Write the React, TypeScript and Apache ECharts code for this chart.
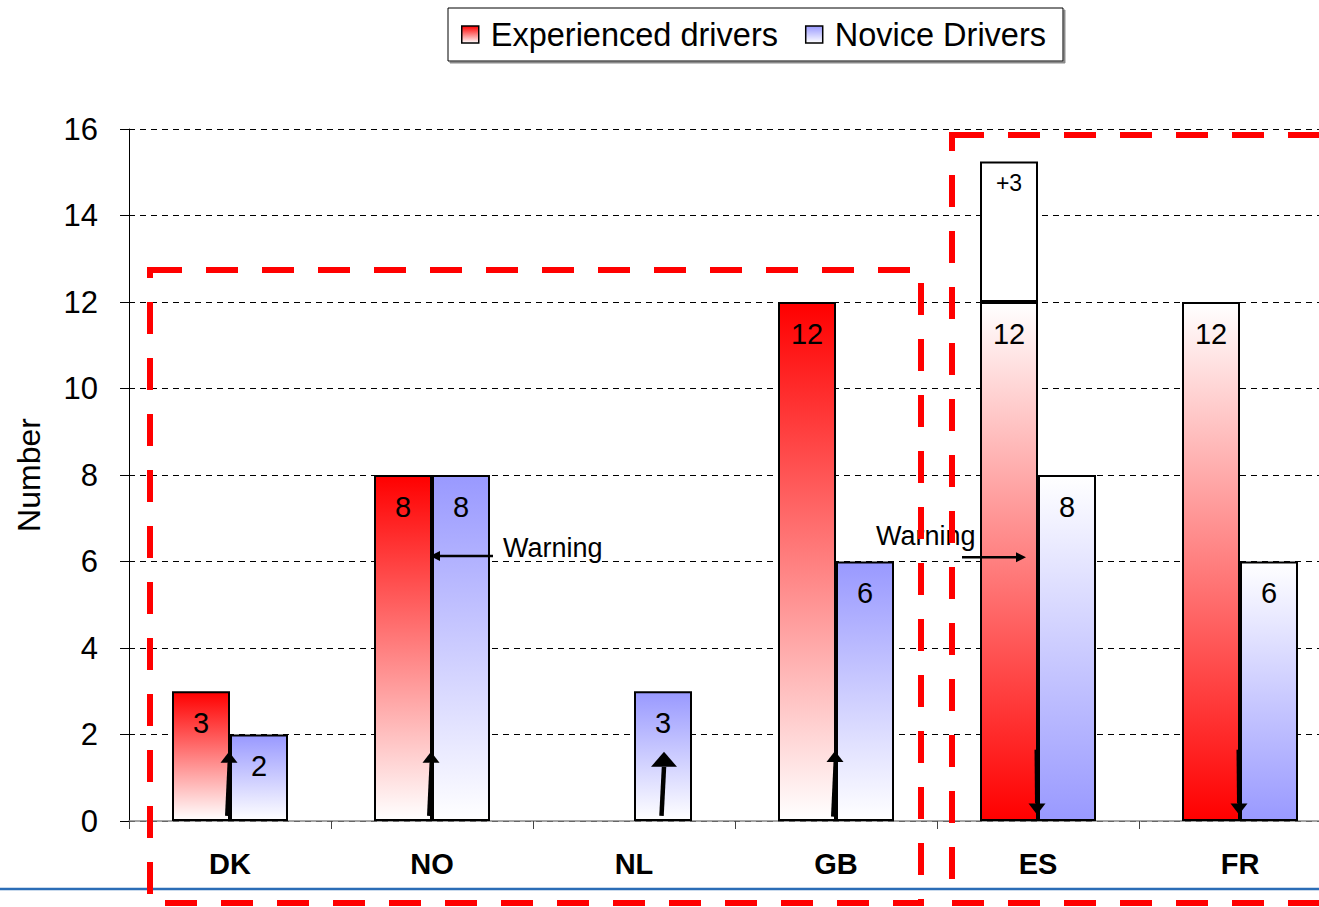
import React, { useEffect, useRef } from 'react';
import * as echarts from 'echarts';

// ---- data ----
const categories = ['DK', 'NO', 'NL', 'GB', 'ES', 'FR'];
const experienced: (number | null)[] = [3, 8, null, 12, 12, 12];
const novice: (number | null)[] = [2, 8, 3, 6, 8, 6];
const esExtra: (number | null)[] = [null, null, null, null, 3.25, null];
const esExtraLabel = '+3';
const yMin = 0;
const yMax = 16;
const yInterval = 2;

// arrows (category, start value, end value)
const arrowCats = ['DK', 'NO', 'NL', 'GB', 'ES', 'FR'];
const arrowFrom = [0.12, 0.12, 0.12, 0.1, 1.65, 1.65];
const arrowTo = [1.6, 1.6, 1.6, 1.62, 0.15, 0.15];

// "Warning" notes (category, arrow value, text value)
const warningCats = ['NO', 'ES'];
const warningArrowValue = [6.13, 6.1];
const warningTextValue = [6.31, 6.59];
const warningText = 'Warning';

const legendNames = ['Experienced drivers', 'Novice Drivers'];

// ---- styles ----
const FONT = "'Liberation Sans', Arial, sans-serif";
const RED = '#ff0000';
const BLUE = '#9999ff';
const reversedFade = ['ES', 'FR'];
const BAR_W = 58;

function grad(color: string, reversed: boolean) {
  return new echarts.graphic.LinearGradient(
    0, 0, 0, 1,
    reversed
      ? [{ offset: 0, color: '#ffffff' }, { offset: 1, color }]
      : [{ offset: 0, color }, { offset: 1, color: '#ffffff' }]
  );
}

function barData(values: (number | null)[], color: string) {
  return values.map((v, i) =>
    v == null
      ? '-'
      : { value: v, itemStyle: { color: grad(color, reversedFade.includes(categories[i])) } }
  );
}

export default function App() {
  const ref = useRef<HTMLDivElement>(null);

  useEffect(() => {
    if (!ref.current) return;
    const chart = echarts.init(ref.current, undefined, { renderer: 'svg' });

    const labelStyle = {
      show: true,
      position: 'insideTop' as const,
      distance: 17,
      fontSize: 29,
      color: '#000',
      fontFamily: FONT,
    };

    const option: any = {
      animation: false,
      backgroundColor: '#fff',
      textStyle: { fontFamily: FONT },
      tooltip: { show: false },
      legend: {
        data: legendNames,
        icon: 'rect',
        left: 448,
        top: 8,
        itemWidth: 17,
        itemHeight: 17,
        itemGap: 27,
        padding: [10, 17, 10, 13],
        borderColor: '#000',
        borderWidth: 1,
        backgroundColor: '#fff',
        shadowColor: '#8a8a8a',
        shadowOffsetX: 2,
        shadowOffsetY: 2,
        shadowBlur: 0,
        itemStyle: { borderColor: '#000', borderWidth: 1.5 },
        textStyle: { fontSize: 32.5, color: '#000', fontFamily: FONT, padding: [0, 0, 0, 7] },
      },
      grid: {
        left: 129,
        top: 129,
        width: 1212,
        height: 692,
        containLabel: false,
        outerBoundsMode: 'none',
      },
      xAxis: {
        type: 'category',
        data: categories,
        axisLine: { show: true, lineStyle: { color: '#888', width: 1.5 } },
        axisTick: { show: true, length: 8, lineStyle: { color: '#444' } },
        axisLabel: { fontSize: 29, fontWeight: 'bold', color: '#000', margin: 28, fontFamily: FONT },
        splitLine: { show: false },
      },
      yAxis: {
        type: 'value',
        min: yMin,
        max: yMax,
        interval: yInterval,
        name: 'Number',
        nameLocation: 'middle',
        nameGap: 84,
        nameRotate: 90,
        nameTextStyle: { fontSize: 32, color: '#000', fontFamily: FONT },
        axisLine: { show: true, lineStyle: { color: '#000', width: 1 } },
        axisTick: { show: true, length: 9, lineStyle: { color: '#000' } },
        axisLabel: { fontSize: 31, color: '#000', margin: 31, fontFamily: FONT },
        splitLine: { show: true, lineStyle: { color: '#000', width: 1, type: [6, 5] } },
      },
      series: [
        {
          name: legendNames[0],
          type: 'bar',
          stack: 'exp',
          barWidth: BAR_W,
          barGap: '0%',
          itemStyle: { color: grad(RED, false), borderColor: '#000', borderWidth: 2 },
          label: labelStyle,
          data: barData(experienced, RED),
          z: 2,
        },
        {
          name: 'extra',
          type: 'bar',
          stack: 'exp',
          barWidth: BAR_W,
          barGap: '0%',
          itemStyle: { color: '#ffffff', borderColor: '#000', borderWidth: 2 },
          label: { ...labelStyle, fontSize: 23, distance: 10, formatter: () => esExtraLabel },
          data: esExtra.map((v) => (v == null ? '-' : v)),
          z: 2,
        },
        {
          name: legendNames[1],
          type: 'bar',
          barWidth: BAR_W,
          barGap: '0%',
          itemStyle: { color: grad(BLUE, false), borderColor: '#000', borderWidth: 2 },
          label: labelStyle,
          data: barData(novice, BLUE),
          z: 2,
        },
        {
          name: 'arrows',
          type: 'custom',
          z: 5,
          silent: true,
          data: arrowCats.map((c, i) => [categories.indexOf(c), arrowFrom[i], arrowTo[i]]),
          renderItem: (params: any, api: any) => {
            const idx = api.value(0);
            const cat = categories[idx];
            const big = cat === 'NL';
            const off = cat === 'NL' ? BAR_W / 2 : -2;
            const p0 = api.coord([idx, api.value(1)]);
            const p1 = api.coord([idx, api.value(2)]);
            const x = p0[0] + off;
            const dir = p1[1] < p0[1] ? -1 : 1; // -1 up
            const headLen = big ? 15 : 11;
            const headHalf = big ? 13 : 8.5;
            const baseY = p1[1] - dir * headLen;
            return {
              type: 'group',
              children: [
                {
                  type: 'line',
                  shape: { x1: x - (dir < 0 ? 1.5 : 0), y1: p0[1], x2: x + (dir < 0 ? 1 : 0.5), y2: baseY },
                  style: { stroke: '#000', lineWidth: big ? 4.5 : 3 },
                },
                {
                  type: 'polygon',
                  shape: {
                    points: [
                      [x + 1, p1[1]],
                      [x + 1 - headHalf, baseY],
                      [x + 1 + headHalf, baseY],
                    ],
                  },
                  style: { fill: '#000' },
                },
              ],
            };
          },
        },
        {
          name: 'warnings',
          type: 'custom',
          z: 5,
          silent: true,
          data: warningCats.map((c, i) => [categories.indexOf(c), warningArrowValue[i], warningTextValue[i]]),
          renderItem: (params: any, api: any) => {
            const idx = api.value(0);
            const cat = categories[idx];
            const pa = api.coord([idx, api.value(1)]);
            const pt = api.coord([idx, api.value(2)]);
            const cx = pa[0];
            const y = pa[1];
            const pointLeft = cat === 'NO';
            const xStart = pointLeft ? cx + 61 : cx - 76;
            const xTip = pointLeft ? cx - 2 : cx - 12;
            const head = 10;
            const baseX = pointLeft ? xTip + head : xTip - head;
            const textX = pointLeft ? cx + 71 : cx - 162;
            return {
              type: 'group',
              children: [
                {
                  type: 'line',
                  shape: { x1: xStart, y1: y, x2: baseX, y2: y },
                  style: { stroke: '#000', lineWidth: 2.5 },
                },
                {
                  type: 'polygon',
                  shape: { points: [[xTip, y], [baseX, y - 5], [baseX, y + 5]] },
                  style: { fill: '#000' },
                },
                {
                  type: 'text',
                  x: textX,
                  y: pt[1],
                  style: {
                    text: warningText,
                    fill: '#000',
                    fontSize: 27,
                    fontFamily: FONT,
                    align: 'left',
                    verticalAlign: 'middle',
                  },
                },
              ],
            };
          },
        },
      ],
      graphic: [
        {
          type: 'line',
          z: 50,
          silent: true,
          shape: { x1: 0, y1: 889, x2: 1360, y2: 889 },
          style: { stroke: '#2b6db6', lineWidth: 2.5 },
        },
        {
          type: 'rect',
          z: 100,
          silent: true,
          shape: { x: 150, y: 270, width: 771, height: 633 },
          style: { fill: 'none', stroke: '#ff0000', lineWidth: 6, lineDash: [32, 24] },
        },
        {
          type: 'rect',
          z: 100,
          silent: true,
          shape: { x: 952, y: 135, width: 500, height: 768 },
          style: { fill: 'none', stroke: '#ff0000', lineWidth: 6, lineDash: [32, 24] },
        },
      ],
    };

    chart.setOption(option);
    return () => chart.dispose();
  }, []);

  return (
    <div
      style={{
        position: 'fixed',
        left: 0,
        top: 0,
        width: 1319,
        height: 907,
        overflow: 'hidden',
        background: '#fff',
      }}
    >
      <div ref={ref} style={{ width: 1360, height: 907 }} />
    </div>
  );
}
